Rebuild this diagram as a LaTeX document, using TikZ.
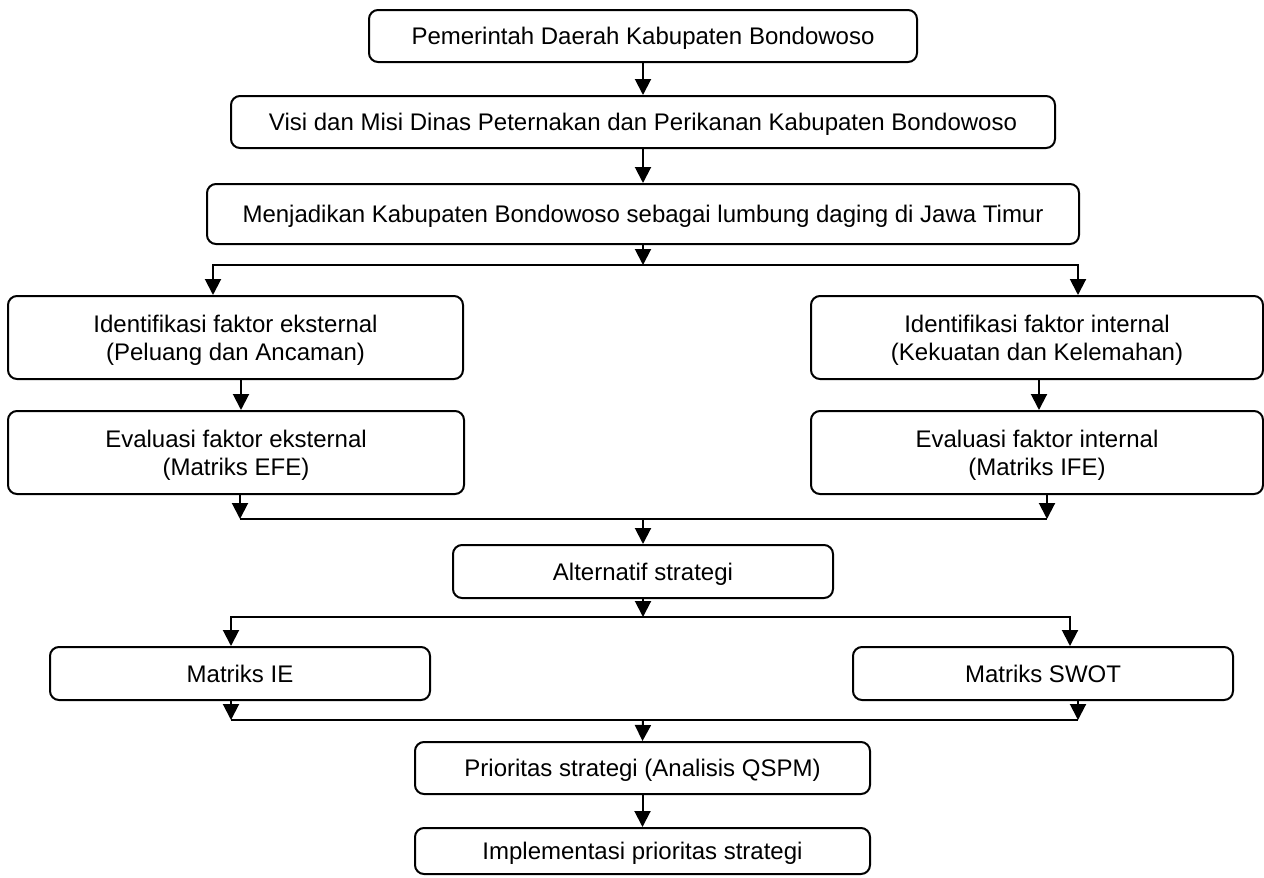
\documentclass[tikz,border=0pt]{standalone}
\usepackage{fontspec}
\setmainfont{Liberation Sans}
\usetikzlibrary{arrows.meta,calc}
\begin{document}
\begin{tikzpicture}[x=0.5pt,y=-0.5pt,
  box/.style={draw=black,line width=1pt,rounded corners=4.5pt,fill=white,
    align=center,inner sep=0pt,text depth=0pt,font=\fontsize{12}{14}\selectfont},
  conn/.style={line width=1pt,draw=black},
  arr/.style={conn,-{Triangle[width=8pt,length=8pt]}}]
\useasboundingbox (0,0) rectangle (1264,878);
% nodes
\node[box,minimum width=274pt,minimum height=26pt] (b1) at (643,36) {Pemerintah Daerah Kabupaten Bondowoso};
\node[box,minimum width=412pt,minimum height=26pt] (b2) at (643,122) {Visi dan Misi Dinas Peternakan dan Perikanan Kabupaten Bondowoso};
\node[box,minimum width=436pt,minimum height=30pt] (b3) at (643,214) {Menjadikan Kabupaten Bondowoso sebagai lumbung daging di Jawa Timur};
\node[box,minimum width=227.5pt,minimum height=41.5pt] (ie) at (235.5,337.5) {Identifikasi faktor eksternal\\(Peluang dan Ancaman)};
\node[box,minimum width=226pt,minimum height=41.5pt] (ii) at (1037,337.5) {Identifikasi faktor internal\\(Kekuatan dan Kelemahan)};
\node[box,minimum width=228pt,minimum height=41.5pt] (ee) at (236,452.5) {Evaluasi faktor eksternal\\(Matriks EFE)};
\node[box,minimum width=226pt,minimum height=41.5pt] (ei) at (1037,452.5) {Evaluasi faktor internal\\(Matriks IFE)};
\node[box,minimum width=190pt,minimum height=26.5pt] (alt) at (643,571.5) {Alternatif strategi};
\node[box,minimum width=190pt,minimum height=26.5pt] (mie) at (240,673.5) {Matriks IE};
\node[box,minimum width=190pt,minimum height=26.5pt] (swot) at (1043,673.5) {Matriks SWOT};
\node[box,minimum width=227.5pt,minimum height=26pt] (prio) at (642.5,768) {Prioritas strategi (Analisis QSPM)};
\node[box,minimum width=227.5pt,minimum height=23pt] (impl) at (642.5,851) {Implementasi prioritas strategi};
% junction coordinates
\coordinate (j1) at (643,265);
\coordinate (j1a) at (213,265);
\coordinate (j1b) at (1078,265);
\coordinate (xa) at (241,0);
\coordinate (xb) at (1039,0);
\coordinate (j2a) at (240,519);
\coordinate (j2) at (643,519);
\coordinate (j2b) at (1047,519);
\coordinate (j3) at (643,617);
\coordinate (j3a) at (231,617);
\coordinate (j3b) at (1070,617);
\coordinate (j4a) at (231,720);
\coordinate (j4) at (643,720);
\coordinate (j4b) at (1078,720);
% connectors
\draw[arr] (b1.south) -- (b2.north);
\draw[arr] (b2.south) -- (b3.north);
\draw[arr] (b3.south) -- (j1);
\draw[arr] (j1) -| (j1a |- ie.north);
\draw[arr] (j1) -| (j1b |- ii.north);
\draw[arr] (ie.south -| xa) -- (ee.north -| xa);
\draw[arr] (ii.south -| xb) -- (ei.north -| xb);
\draw[arr] (ee.south -| j2a) -- (j2a);
\draw[arr] (ei.south -| j2b) -- (j2b);
\draw[conn] (j2a) -- (j2b);
\draw[arr] (j2) -- (alt.north);
\draw[arr] (alt.south) -- (j3);
\draw[arr] (j3) -| (j3a |- mie.north);
\draw[arr] (j3) -| (j3b |- swot.north);
\draw[arr] (mie.south -| j4a) -- (j4a);
\draw[arr] (swot.south -| j4b) -- (j4b);
\draw[conn] (j4a) -- (j4b);
\draw[arr] (j4) -- (prio.north);
\draw[arr] (prio.south) -- (impl.north);
\end{tikzpicture}
\end{document}
